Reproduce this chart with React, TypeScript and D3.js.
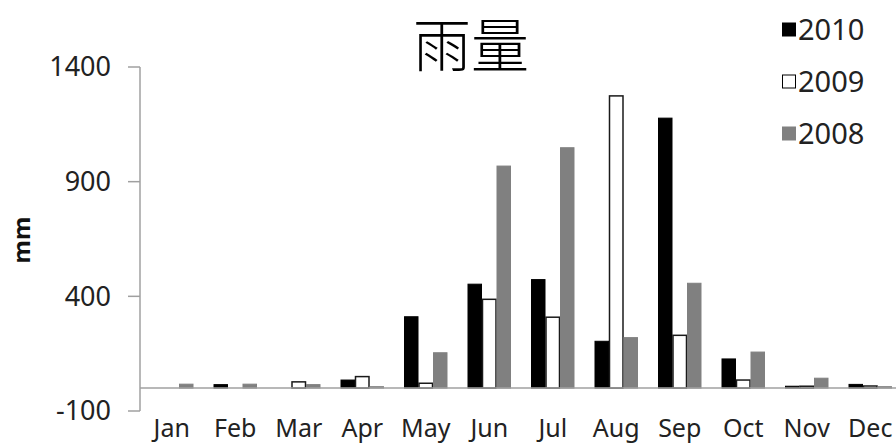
import React from 'react'
import * as d3 from 'd3'

const months = ['Jan', 'Feb', 'Mar', 'Apr', 'May', 'Jun', 'Jul', 'Aug', 'Sep', 'Oct', 'Nov', 'Dec']
const seriesNames = ['2010', '2009', '2008']
const rain2010 = [0, 15, 0, 35, 311, 453, 473, 204, 1177, 127, 8, 16]
const rain2009 = [0, 0, 27, 50, 21, 387, 309, 1274, 230, 35, 8, 9]
const rain2008 = [17, 17, 15, 6, 154, 968, 1048, 220, 457, 157, 43, 6]
const yTicks = [-100, 400, 900, 1400]

const fills = ['#000000', '#ffffff', '#808080']
const strokes = ['#000000', '#1a1a1a', '#808080']

const width = 896
const height = 447

export default function App() {
  const series = [rain2010, rain2009, rain2008]

  const x0 = d3.scaleBand<string>()
    .domain(months)
    .range([140, 902])
    .paddingInner(0.315)
    .paddingOuter(0.1575)

  const x1 = d3.scaleBand<string>()
    .domain(seriesNames)
    .range([0, x0.bandwidth()])

  const y = d3.scaleLinear()
    .domain([-100, 1400])
    .range([411, 67])

  const font = '"Noto Sans", sans-serif'

  return (
    <svg width={width} height={height} style={{ position: 'absolute', left: 0, top: 0, background: '#fff' }}>
      <rect width={width} height={height} fill="#fff" />

      {/* бары */}
      {months.map((m, i) => (
        <g key={m} transform={`translate(${x0(m)},0)`}>
          {seriesNames.map((s, j) => {
            const v = series[j][i]
            if (v <= 0) return null
            return (
              <rect
                key={s}
                x={x1(s)! + 0.5}
                y={y(v)}
                width={x1.bandwidth() - 1}
                height={y(0) - y(v)}
                fill={fills[j]}
                stroke={strokes[j]}
                strokeWidth={j === 1 ? 1.5 : 1}
              />
            )
          })}
        </g>
      ))}

      {/* ось Y */}
      <line x1={140} x2={140} y1={y(1400)} y2={y(-100)} stroke="#a0a0a0" strokeWidth={1.5} />
      {yTicks.map(t => (
        <g key={t}>
          <line x1={128} x2={140} y1={y(t)} y2={y(t)} stroke="#a0a0a0" strokeWidth={1.5} />
          <text x={111} y={y(t)} dy="0.35em" textAnchor="end" fontFamily={font} fontSize={27} fill="#222">
            {t}
          </text>
        </g>
      ))}

      {/* ось X на нуле */}
      <line x1={140} x2={902} y1={y(0)} y2={y(0)} stroke="#a0a0a0" strokeWidth={1.5} />
      {months.map(m => (
        <text key={m} x={x0(m)! + x0.bandwidth() / 2} y={437} textAnchor="middle" fontFamily={font} fontSize={25} fill="#222">
          {m}
        </text>
      ))}

      <text
        transform="translate(30,240) rotate(-90)"
        textAnchor="middle"
        fontFamily={font}
        fontWeight="bold"
        fontSize={24}
        fill="#111"
      >
        mm
      </text>

      <text x={471} y={67} textAnchor="middle" fontFamily='"Noto Sans CJK SC", sans-serif' fontWeight={300} fontSize={58} fill="#000">
        雨量
      </text>

      {/* легенда */}
      {seriesNames.map((s, j) => (
        <g key={s} transform={`translate(782,${30 + j * 52})`}>
          <rect x={0.5} y={-7} width={13} height={13} fill={fills[j]} stroke={j === 1 ? '#000' : fills[j]} strokeWidth={1} />
          <text x={16} y={0} dy="0.36em" fontFamily={font} fontSize={29} fill="#222">
            {s}
          </text>
        </g>
      ))}
    </svg>
  )
}
